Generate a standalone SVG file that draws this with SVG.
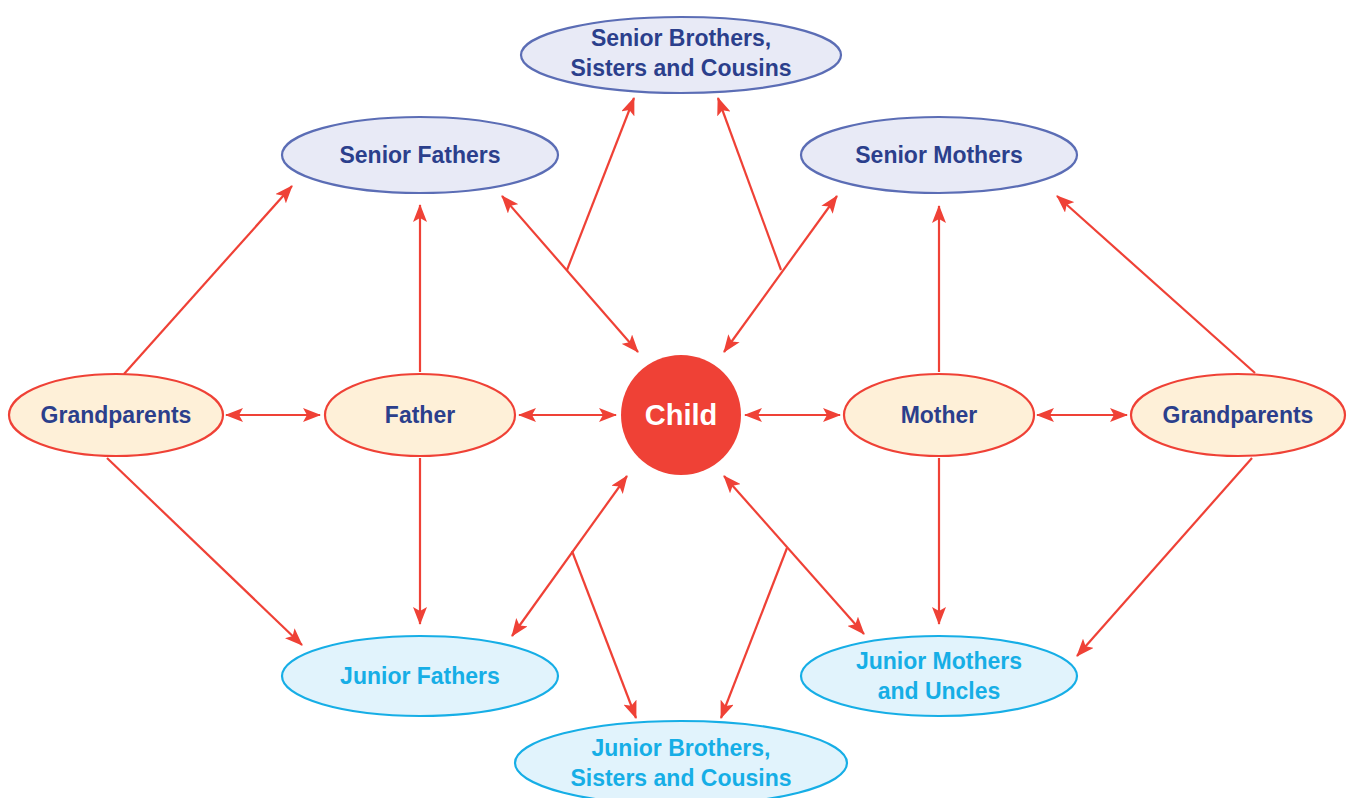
<svg xmlns="http://www.w3.org/2000/svg" width="1351" height="798" viewBox="0 0 1351 798">
<defs>
<marker id="ah" markerUnits="userSpaceOnUse" markerWidth="18" markerHeight="14" refX="17" refY="7" orient="auto-start-reverse" viewBox="0 0 18 14">
<path d="M0,0 L18,7 L0,14 L4,7 z" fill="#EF4136"/>
</marker>
<style>
.c line { stroke:#EF4136; stroke-width:2.2; fill:none; }
.s ellipse { fill:#E8EAF6; stroke:#5B6DB5; stroke-width:2.2; }
.s text { fill:#2B3F8C; }
.m ellipse { fill:#FEF0D8; stroke:#EF4136; stroke-width:2.2; }
.m text { fill:#2B3F8C; }
.j ellipse { fill:#E1F3FC; stroke:#16AEE6; stroke-width:2.2; }
.j text { fill:#16AEE6; }
text { font-family:"Liberation Sans", Arial, sans-serif; font-weight:bold; font-size:23px; text-anchor:middle; }
</style>
</defs>
<rect width="1351" height="798" fill="#FFFFFF"/>
<g id="connectors" class="c">
<line x1="124" y1="374" x2="292" y2="186" marker-end="url(#ah)"/>
<line x1="420" y1="372" x2="420" y2="205" marker-end="url(#ah)"/>
<line x1="502" y1="196" x2="638" y2="352" marker-start="url(#ah)" marker-end="url(#ah)"/>
<line x1="567" y1="270" x2="634" y2="98" marker-end="url(#ah)"/>
<line x1="837" y1="196" x2="724" y2="352" marker-start="url(#ah)" marker-end="url(#ah)"/>
<line x1="781" y1="270" x2="718" y2="98" marker-end="url(#ah)"/>
<line x1="939" y1="372" x2="939" y2="206" marker-end="url(#ah)"/>
<line x1="1255" y1="373" x2="1057" y2="196" marker-end="url(#ah)"/>
<line x1="226" y1="415" x2="320" y2="415" marker-start="url(#ah)" marker-end="url(#ah)"/>
<line x1="519" y1="415" x2="616" y2="415" marker-start="url(#ah)" marker-end="url(#ah)"/>
<line x1="745" y1="415" x2="840" y2="415" marker-start="url(#ah)" marker-end="url(#ah)"/>
<line x1="1037" y1="415" x2="1127" y2="415" marker-start="url(#ah)" marker-end="url(#ah)"/>
<line x1="107" y1="458" x2="302" y2="645" marker-end="url(#ah)"/>
<line x1="420" y1="458" x2="420" y2="624" marker-end="url(#ah)"/>
<line x1="627" y1="476" x2="512" y2="636" marker-start="url(#ah)" marker-end="url(#ah)"/>
<line x1="572" y1="551" x2="636" y2="718" marker-end="url(#ah)"/>
<line x1="724" y1="476" x2="864" y2="634" marker-start="url(#ah)" marker-end="url(#ah)"/>
<line x1="787" y1="548" x2="721" y2="718" marker-end="url(#ah)"/>
<line x1="939" y1="458" x2="939" y2="624" marker-end="url(#ah)"/>
<line x1="1252" y1="458" x2="1077" y2="656" marker-end="url(#ah)"/>
</g>
<g id="senior-brothers" class="s"><ellipse cx="681" cy="55" rx="160" ry="38"/><text x="681" y="46">Senior Brothers,</text><text x="681" y="76">Sisters and Cousins</text></g>
<g id="senior-fathers" class="s"><ellipse cx="420" cy="155" rx="138" ry="38"/><text x="420" y="163">Senior Fathers</text></g>
<g id="senior-mothers" class="s"><ellipse cx="939" cy="155" rx="138" ry="38"/><text x="939" y="163">Senior Mothers</text></g>
<g id="grandparents-left" class="m"><ellipse cx="116" cy="415" rx="107" ry="41"/><text x="116" y="423">Grandparents</text></g>
<g id="father" class="m"><ellipse cx="420" cy="415" rx="95" ry="41"/><text x="420" y="423">Father</text></g>
<g id="child"><circle cx="681" cy="415" r="60" fill="#EF4136"/><text x="681" y="425" fill="#FFFFFF" style="font-size:29px">Child</text></g>
<g id="mother" class="m"><ellipse cx="939" cy="415" rx="95" ry="41"/><text x="939" y="423">Mother</text></g>
<g id="grandparents-right" class="m"><ellipse cx="1238" cy="415" rx="107" ry="41"/><text x="1238" y="423">Grandparents</text></g>
<g id="junior-fathers" class="j"><ellipse cx="420" cy="676" rx="138" ry="40"/><text x="420" y="684">Junior Fathers</text></g>
<g id="junior-mothers" class="j"><ellipse cx="939" cy="676" rx="138" ry="40"/><text x="939" y="669">Junior Mothers</text><text x="939" y="699">and Uncles</text></g>
<g id="junior-brothers" class="j"><ellipse cx="681" cy="763" rx="166" ry="42"/><text x="681" y="756">Junior Brothers,</text><text x="681" y="786">Sisters and Cousins</text></g>
</svg>
